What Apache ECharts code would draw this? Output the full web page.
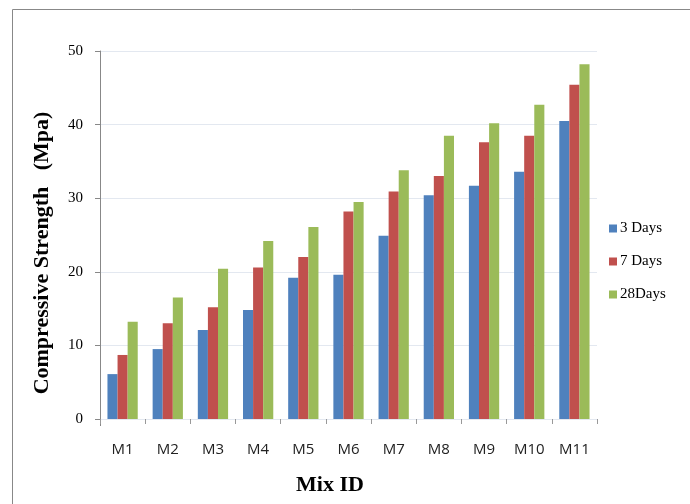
<!DOCTYPE html>
<html>
<head>
<meta charset="utf-8">
<script src="https://cdn.jsdelivr.net/npm/echarts@6/dist/echarts.min.js"></script>
<style>html,body{margin:0;padding:0;background:#fff}#c{width:690px;height:504px}</style>
</head>
<body>
<div id="c"></div>
<script>
const categories = ['M1','M2','M3','M4','M5','M6','M7','M8','M9','M10','M11'];
const days3  = [6.1, 9.5, 12.1, 14.8, 19.2, 19.6, 24.9, 30.4, 31.7, 33.6, 40.5];
const days7  = [8.7, 13.0, 15.2, 20.6, 22.0, 28.2, 30.9, 33.0, 37.6, 38.5, 45.4];
const days28 = [13.2, 16.5, 20.4, 24.2, 26.1, 29.5, 33.8, 38.5, 40.2, 42.7, 48.2];
const seriesNames = ['3 Days', '7 Days', '28Days'];
const yTicks = [0, 10, 20, 30, 40, 50];

const chart = echarts.init(document.getElementById('c'), null, {renderer: 'canvas'});
const colors = ['#4F81BD', '#C0504D', '#9BBB59'];
const serif = '"Liberation Serif", "Times New Roman", serif';
const sans = '"Open Sans", "Liberation Sans", Arial, sans-serif';

chart.setOption({
  animation: false,
  color: colors,
  grid: {left: 100, right: 93, top: 51, bottom: 85, containLabel: false},
  legend: {
    orient: 'vertical', left: 604, top: 216, itemWidth: 8, itemHeight: 8, itemGap: 18,
    icon: 'rect',
    textStyle: {fontFamily: serif, fontSize: 15, color: '#000', padding: [0,0,0,-2]},
    data: seriesNames
  },
  xAxis: {
    type: 'category', data: categories,
    axisLine: {show: false},
    axisTick: {show: true, length: 5, lineStyle: {color: '#999'}},
    axisLabel: {fontFamily: sans, fontSize: 15, color: '#222', margin: 23},
    splitLine: {show: false}
  },
  yAxis: {
    type: 'value', min: yTicks[0], max: yTicks[yTicks.length-1], interval: 10,
    axisLine: {show: true, lineStyle: {color: '#888'}},
    axisTick: {show: true, length: 5, lineStyle: {color: '#888'}},
    axisLabel: {fontFamily: serif, fontSize: 15, color: '#000', margin: 17},
    splitLine: {show: true, lineStyle: {color: '#e3e8f0'}}
  },
  graphic: [
    {type: 'line', shape: {x1: 12.5, y1: 9.5, x2: 690, y2: 9.5}, style: {stroke: '#888', lineWidth: 1}},
    {type: 'line', shape: {x1: 12.5, y1: 9.5, x2: 12.5, y2: 504}, style: {stroke: '#888', lineWidth: 1}},
    {type: 'line', shape: {x1: 100.5, y1: 419, x2: 100.5, y2: 426}, style: {stroke: '#888', lineWidth: 1}},
    {type: 'text', x: 42, y: 253, rotation: Math.PI/2,
     style: {text: 'Compressive Strength   (Mpa)', font: 'bold 22px ' + serif, fill: '#000', align: 'center', verticalAlign: 'middle'}},
    {type: 'text', x: 330, y: 485,
     style: {text: 'Mix ID', font: 'bold 22px ' + serif, fill: '#000', align: 'center', verticalAlign: 'middle'}}
  ],
  series: [
    {name: seriesNames[0], type: 'bar', data: days3, barGap: '0%', barCategoryGap: '33%'},
    {name: seriesNames[1], type: 'bar', data: days7, barGap: '0%', barCategoryGap: '33%'},
    {name: seriesNames[2], type: 'bar', data: days28, barGap: '0%', barCategoryGap: '33%'}
  ]
});
</script>
</body>
</html>
